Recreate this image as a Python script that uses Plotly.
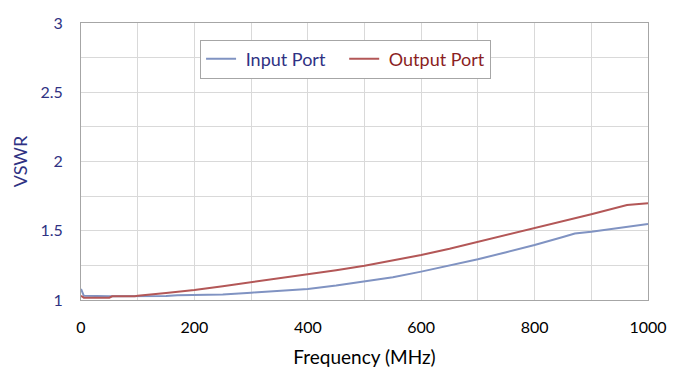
import plotly.graph_objects as go

freq_in = [0, 5, 50, 100, 150, 170, 200, 250, 300, 350, 400, 450, 500, 550, 600,
           650, 700, 750, 800, 850, 871, 900, 950, 1000]
vswr_in = [1.08, 1.03, 1.027, 1.027, 1.028, 1.034, 1.035, 1.04, 1.053, 1.065, 1.08,
           1.104, 1.132, 1.165, 1.205, 1.248, 1.294, 1.345, 1.397, 1.455, 1.48,
           1.493, 1.52, 1.549]

freq_out = [0, 5, 50, 55, 95, 100, 150, 200, 250, 300, 350, 400, 450, 500, 550, 600,
            650, 700, 750, 800, 850, 900, 963, 1000]
vswr_out = [1.03, 1.017, 1.017, 1.027, 1.027, 1.03, 1.05, 1.072, 1.10, 1.128, 1.155,
            1.185, 1.215, 1.248, 1.285, 1.325, 1.37, 1.42, 1.47, 1.517, 1.567, 1.619,
            1.686, 1.698]

x_ticks = [0, 200, 400, 600, 800, 1000]
y_ticks = [1, 1.5, 2, 2.5, 3]

FONT = "Lato"
NAVY = "#2f3283"
DARKRED = "#8b1f1f"
NB = "\u00a0"

fig = go.Figure()
fig.add_trace(go.Scatter(x=freq_in, y=vswr_in, mode="lines", name=NB + "Input Port" + NB * 3,
                         line=dict(color="#8093c2", width=2)))
fig.add_trace(go.Scatter(x=freq_out, y=vswr_out, mode="lines",
                         name=NB + "<span style='color:%s'>Output Port</span>" % DARKRED,
                         line=dict(color="#b35757", width=2)))

fig.update_layout(
    width=673, height=385,
    margin=dict(l=81, r=25, t=23, b=85),
    paper_bgcolor="white", plot_bgcolor="white",
    font=dict(family=FONT, size=16, color="black"),
    showlegend=True,
    legend=dict(
        orientation="h", x=0.21, y=0.94, xanchor="left", yanchor="top",
        bgcolor="white", bordercolor="#a6a6a6", borderwidth=1,
        font=dict(family=FONT, size=18, color=NAVY),
        itemwidth=30, tracegroupgap=0,
    ),
    xaxis=dict(
        range=[0, 1000], tickvals=x_ticks, ticktext=[str(v) for v in x_ticks],
        showgrid=True, gridcolor="#d9d9d9", gridwidth=1,
        minor=dict(dtick=100, showgrid=True, gridcolor="#d9d9d9", gridwidth=1),
        showline=True, linecolor="#a6a6a6", linewidth=1, mirror=True,
        ticks="", ticklabelstandoff=13, automargin=False,
        tickfont=dict(family=FONT, size=16, color="black"),
        title=dict(text="Frequency (MHz)", font=dict(family=FONT, size=19, color="black"),
                   standoff=15),
        zeroline=False,
    ),
    yaxis=dict(
        range=[1, 3], tickvals=y_ticks, ticktext=["1", "1.5", "2", "2.5", "3"],
        showgrid=True, gridcolor="#d9d9d9", gridwidth=1,
        minor=dict(dtick=0.25, showgrid=True, gridcolor="#d9d9d9", gridwidth=1),
        showline=True, linecolor="#a6a6a6", linewidth=1, mirror=True,
        ticks="", ticklabelstandoff=14, automargin=False,
        tickfont=dict(family=FONT, size=16, color=NAVY),
        title=dict(text="VSWR", font=dict(family=FONT, size=18, color=NAVY), standoff=8),
        zeroline=False,
    ),
)

fig.write_html("out.html", config={"displayModeBar": False},
               post_script="document.body.style.margin='0px';")
